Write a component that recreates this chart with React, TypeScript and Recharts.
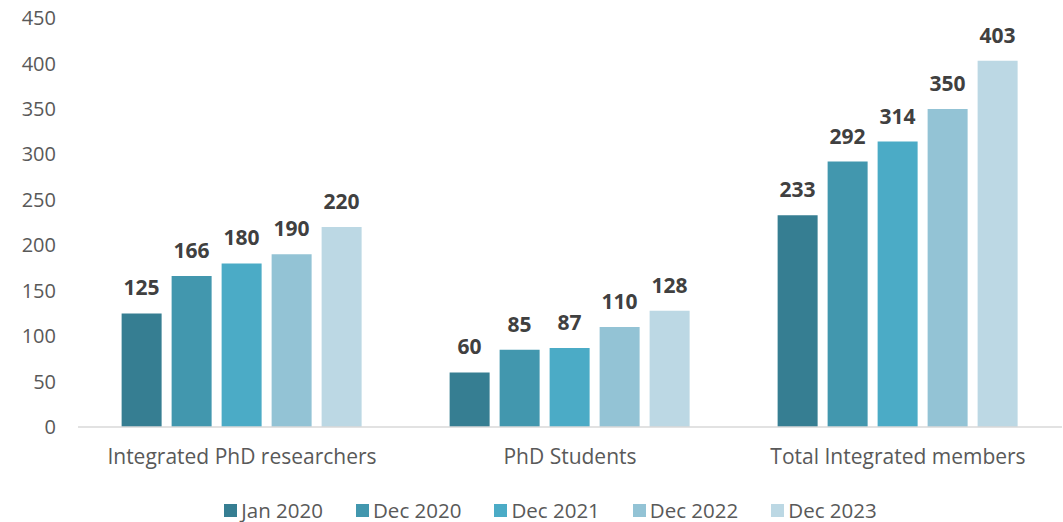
import React from 'react';
import { BarChart, Bar, XAxis, YAxis, Legend, LabelList } from 'recharts';

const categories = ['Integrated PhD researchers', 'PhD Students', 'Total Integrated members'];
const jan2020 = [125, 60, 233];
const dec2020 = [166, 85, 292];
const dec2021 = [180, 87, 314];
const dec2022 = [190, 110, 350];
const dec2023 = [220, 128, 403];
const yTicks = [0, 50, 100, 150, 200, 250, 300, 350, 400, 450];

const series = [
  { key: 'jan2020', name: 'Jan 2020', color: '#367E92' },
  { key: 'dec2020', name: 'Dec 2020', color: '#4297AE' },
  { key: 'dec2021', name: 'Dec 2021', color: '#4BABC6' },
  { key: 'dec2022', name: 'Dec 2022', color: '#93C3D5' },
  { key: 'dec2023', name: 'Dec 2023', color: '#BCD8E4' },
];

const data = categories.map((name, i) => ({
  name,
  jan2020: jan2020[i],
  dec2020: dec2020[i],
  dec2021: dec2021[i],
  dec2022: dec2022[i],
  dec2023: dec2023[i],
}));

const font = '"Open Sans", Lato, sans-serif';

const CustomLegend = () => (
  <div
    style={{
      display: 'flex',
      justifyContent: 'center',
      alignItems: 'center',
      height: 24,
      marginTop: 16,
      fontFamily: font,
      paddingLeft: 72,
    }}
  >
    {series.map((s) => (
      <div key={s.key} style={{ display: 'flex', alignItems: 'center', marginRight: 33 }}>
        <span style={{ display: 'inline-block', width: 13, height: 13, background: s.color, marginRight: 4 }} />
        <span style={{ fontSize: 20.5, color: '#595959' }}>{s.name}</span>
      </div>
    ))}
  </div>
);

const App = () => {
  return (
    <div style={{ position: 'absolute', left: 0, top: 0, width: 1063, height: 522, background: '#fff' }}>
      <BarChart
        width={1063}
        height={522}
        data={data}
        margin={{ top: 18, right: 1, left: 0, bottom: 0 }}
        barCategoryGap="13.3%"
        barGap={10}
      >
        <XAxis
          dataKey="name"
          axisLine={{ stroke: '#D9D9D9', strokeWidth: 1.5 }}
          tickLine={false}
          tickMargin={16}
          height={55}
          tick={{ fontSize: 21, fill: '#595959', fontFamily: font }}
        />
        <YAxis
          domain={[0, 450]}
          ticks={yTicks}
          axisLine={false}
          tickLine={false}
          width={78}
          tickMargin={16}
          tick={{ fontSize: 20, fill: '#595959', fontFamily: font }}
        />
        <Legend verticalAlign="bottom" height={40} content={<CustomLegend />} />
        {series.map((s) => (
          <Bar key={s.key} dataKey={s.key} name={s.name} fill={s.color} isAnimationActive={false}>
            <LabelList
              dataKey={s.key}
              position="top"
              offset={18}
              style={{ fontSize: 21, fontWeight: 700, fill: '#404040', fontFamily: font }}
            />
          </Bar>
        ))}
      </BarChart>
    </div>
  );
};

export default App;
